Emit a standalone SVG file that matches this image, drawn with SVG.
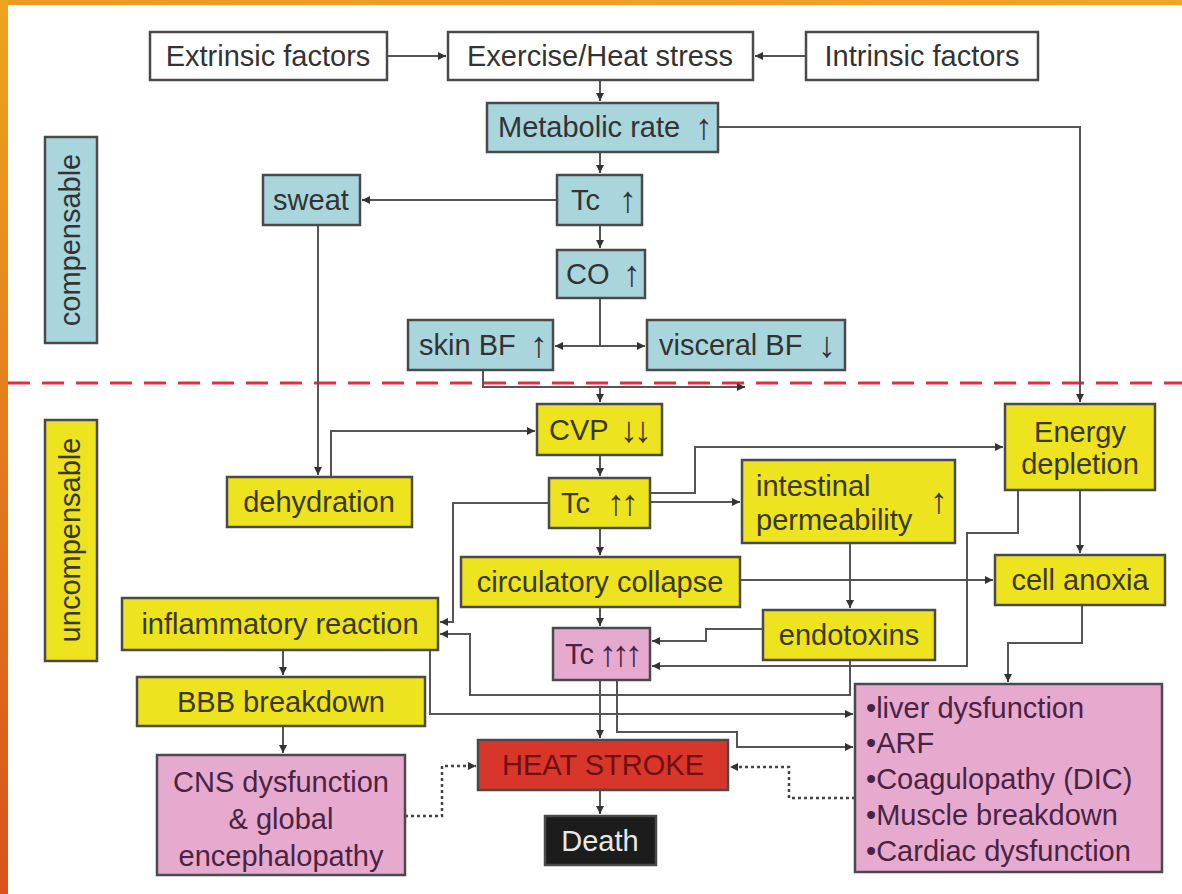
<svg xmlns="http://www.w3.org/2000/svg" width="1182" height="894" viewBox="0 0 1182 894">
<defs>
<linearGradient id="lb" x1="0" y1="0" x2="0" y2="1"><stop offset="0" stop-color="#eea41f"/><stop offset="1" stop-color="#d9531a"/></linearGradient>
<linearGradient id="tb" x1="0" y1="0" x2="1" y2="0"><stop offset="0" stop-color="#ec9a22"/><stop offset="1" stop-color="#efa526"/></linearGradient>
<marker id="ah" viewBox="0 0 8 8" refX="8" refY="4" markerWidth="8" markerHeight="8" markerUnits="userSpaceOnUse" orient="auto"><path d="M0,0 L8,4 L0,8 z" fill="#333"/></marker>
</defs>
<style>
.bx{stroke:#4a4a4a;stroke-width:2.5}
.w{fill:#ffffff}
.b{fill:#a9d6dc}
.y{fill:#ede31f}
.p{fill:#e6aacf}
.r{fill:#d8352b}
.k{fill:#1c1c1c}
text{font-family:'Liberation Sans',Arial,Helvetica,sans-serif;font-size:29px}
.t{fill:#333333}
.ty{fill:#3b3815}
.tp{fill:#4b2342}
.tr{fill:#6e1010}
.tk{fill:#e8e8e8}
.c{text-anchor:middle}
.aw{font-size:36px}
.ln{fill:none;stroke:#555;stroke-width:2}
.ar{marker-end:url(#ah)}
.dt{stroke-dasharray:3 3;stroke:#444;stroke-width:2.5}
</style>
<rect width="1182" height="894" fill="#ffffff"/>
<rect x="0" y="0" width="1182" height="5" fill="url(#tb)"/>
<rect x="0" y="0" width="8" height="894" fill="url(#lb)"/>
<path d="M8,383 H1182" stroke="#e0303e" stroke-width="3" stroke-dasharray="22 12" fill="none"/>

<g id="connectors">
<path class="ln ar" d="M387,56 H446"/>
<path class="ln ar" d="M806,56 H755"/>
<path class="ln ar" d="M600,80 V101"/>
<path class="ln ar" d="M600,152 V173"/>
<path class="ln ar" d="M718,127 H1080 V402"/>
<path class="ln ar" d="M557,200 H362"/>
<path class="ln ar" d="M600,225 V248"/>
<path class="ln" d="M600,298 V346"/>
<path class="ln ar" d="M600,346 H555"/>
<path class="ln ar" d="M600,346 H645"/>
<path class="ln ar" d="M318,225 V475"/>
<path class="ln ar" d="M483,370 V387 H745"/>
<path class="ln ar" d="M600,387 V402"/>
<path class="ln ar" d="M331,477 V431 H535"/>
<path class="ln ar" d="M600,455 V476"/>
<path class="ln ar" d="M549,503 H453 V622 H440"/>
<path class="ln ar" d="M650,493 H695 V447 H1003"/>
<path class="ln ar" d="M650,502 H740"/>
<path class="ln ar" d="M600,528 V555"/>
<path class="ln ar" d="M740,580 H993"/>
<path class="ln ar" d="M600,607 V626"/>
<path class="ln ar" d="M850,543 V608"/>
<path class="ln ar" d="M763,629 H706 V641 H652"/>
<path class="ln ar" d="M1018,490 V533 H967 V666 H652"/>
<path class="ln ar" d="M1080,490 V553"/>
<path class="ln ar" d="M1082,605 V643 H1008 V682"/>
<path class="ln ar" d="M850,660 V695 H470 V634 H440"/>
<path class="ln ar" d="M430,650 V714 H853"/>
<path class="ln ar" d="M283,650 V675"/>
<path class="ln ar" d="M283,726 V753"/>
<path class="ln ar" d="M600,680 V738"/>
<path class="ln ar" d="M617,680 V732 H737 V747 H853"/>
<path class="ln dt ar" d="M405,816 H442 V766 H476"/>
<path class="ln dt ar" d="M855,798 H789 V767 H730"/>
<path class="ln ar" d="M600,790 V814"/>
</g>

<g id="label-compensable"><rect class="bx b" x="45" y="137" width="52" height="206"/><text class="t c" transform="translate(80,240) rotate(-90)">compensable</text></g>
<g id="label-uncompensable"><rect class="bx y" x="45" y="420" width="52" height="241"/><text class="ty c" transform="translate(80,540) rotate(-90)">uncompensable</text></g>

<g id="extrinsic"><rect class="bx w" x="150" y="32" width="237" height="48"/><text class="t c" x="268" y="66">Extrinsic factors</text></g>
<g id="exercise"><rect class="bx w" x="448" y="32" width="305" height="48"/><text class="t c" x="600" y="66">Exercise/Heat stress</text></g>
<g id="intrinsic"><rect class="bx w" x="806" y="32" width="232" height="48"/><text class="t c" x="922" y="66">Intrinsic factors</text></g>
<g id="metabolic"><rect class="bx b" x="487" y="103" width="231" height="49"/><text class="t" x="498" y="137">Metabolic rate<tspan class="aw" x="695" y="139">↑</tspan></text></g>
<g id="tc1"><rect class="bx b" x="557" y="175" width="85" height="50"/><text class="t" x="571" y="210">Tc<tspan class="aw" x="619" y="212">↑</tspan></text></g>
<g id="sweat"><rect class="bx b" x="263" y="175" width="97" height="50"/><text class="t c" x="311" y="210">sweat</text></g>
<g id="co"><rect class="bx b" x="557" y="250" width="88" height="48"/><text class="t" x="566" y="284">CO<tspan class="aw" x="623" y="286">↑</tspan></text></g>
<g id="skinbf"><rect class="bx b" x="408" y="320" width="145" height="50"/><text class="t" x="419" y="355">skin BF<tspan class="aw" x="530" y="357">↑</tspan></text></g>
<g id="visceralbf"><rect class="bx b" x="647" y="320" width="198" height="50"/><text class="t" x="659" y="355">visceral BF<tspan class="aw" x="818" y="357">↓</tspan></text></g>

<g id="cvp"><rect class="bx y" x="537" y="404" width="125" height="51"/><text class="ty" x="549" y="440">CVP<tspan class="aw" x="620" y="442" letter-spacing="-4">↓↓</tspan></text></g>
<g id="energy"><rect class="bx y" x="1005" y="404" width="150" height="86"/><text class="ty c" x="1080" y="442">Energy</text><text class="ty c" x="1080" y="474">depletion</text></g>
<g id="dehydration"><rect class="bx y" x="227" y="477" width="185" height="50"/><text class="ty c" x="319" y="512">dehydration</text></g>
<g id="tc2"><rect class="bx y" x="549" y="478" width="101" height="50"/><text class="ty" x="561" y="513">Tc<tspan class="aw" x="607" y="515" letter-spacing="-4">↑↑</tspan></text></g>
<g id="intestinal"><rect class="bx y" x="742" y="460" width="213" height="83"/><text class="ty" x="756" y="496">intestinal</text><text class="ty" x="756" y="530">permeability</text><text class="ty aw" x="930" y="513">↑</text></g>
<g id="circulatory"><rect class="bx y" x="461" y="557" width="279" height="50"/><text class="ty c" x="600" y="592">circulatory collapse</text></g>
<g id="anoxia"><rect class="bx y" x="995" y="555" width="170" height="50"/><text class="ty c" x="1080" y="590">cell anoxia</text></g>
<g id="inflammatory"><rect class="bx y" x="122" y="598" width="316" height="52"/><text class="ty c" x="280" y="634">inflammatory reaction</text></g>
<g id="tc3"><rect class="bx p" x="553" y="628" width="97" height="52"/><text class="tp" x="565" y="664">Tc<tspan class="aw" x="599" y="666" letter-spacing="-5">↑↑↑</tspan></text></g>
<g id="endotoxins"><rect class="bx y" x="763" y="610" width="172" height="50"/><text class="ty c" x="849" y="645">endotoxins</text></g>
<g id="bbb"><rect class="bx y" x="137" y="677" width="288" height="49"/><text class="ty c" x="281" y="712">BBB breakdown</text></g>
<g id="organs"><rect class="bx p" x="855" y="684" width="307" height="188"/><text class="tp" x="866" y="718">•liver dysfunction</text><text class="tp" x="866" y="753">•ARF</text><text class="tp" x="866" y="789">•Coagulopathy (DIC)</text><text class="tp" x="866" y="825">•Muscle breakdown</text><text class="tp" x="866" y="861">•Cardiac dysfunction</text></g>
<g id="heatstroke"><rect class="bx r" x="478" y="740" width="250" height="50"/><text class="tr c" x="603" y="775">HEAT STROKE</text></g>
<g id="cns"><rect class="bx p" x="157" y="755" width="248" height="120"/><text class="tp c" x="281" y="792">CNS dysfunction</text><text class="tp c" x="281" y="829">&amp; global</text><text class="tp c" x="281" y="866">encephalopathy</text></g>
<g id="death"><rect class="bx k" x="545" y="816" width="111" height="49"/><text class="tk c" x="600" y="851">Death</text></g>
</svg>
